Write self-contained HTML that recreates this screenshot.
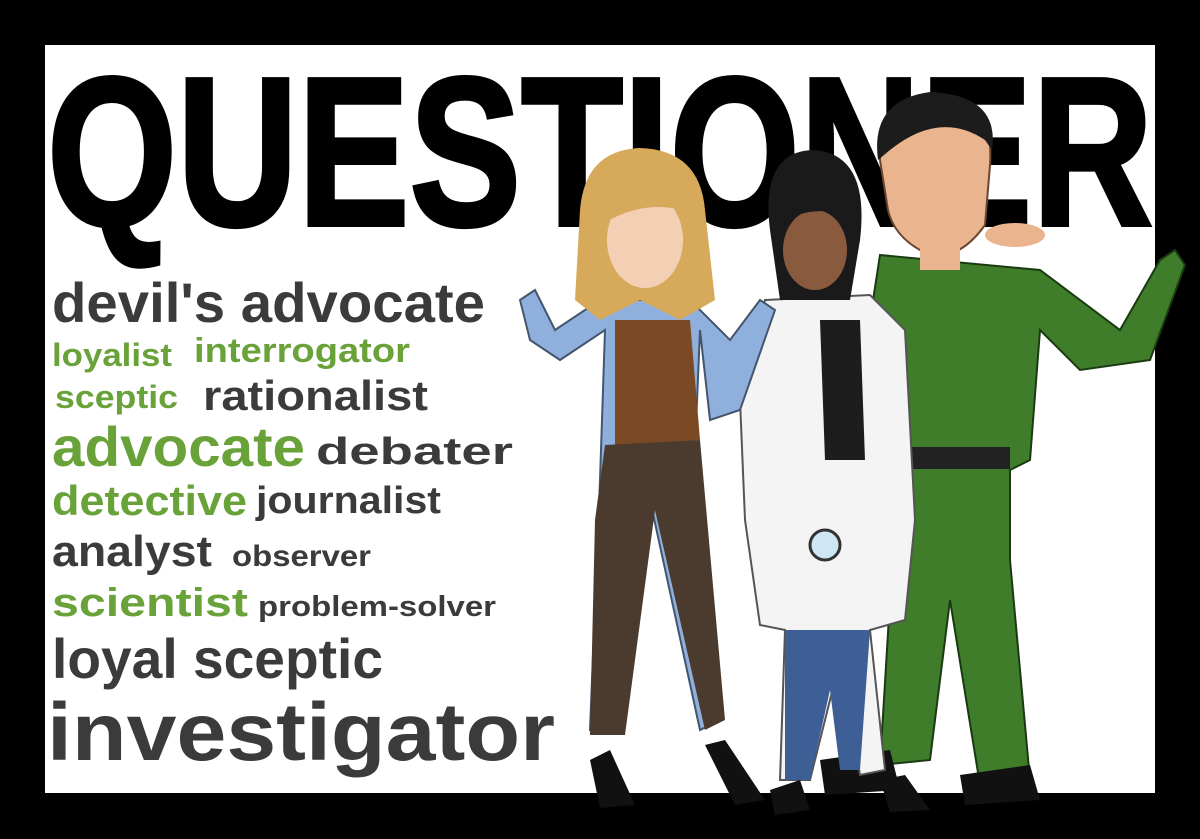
<!DOCTYPE html>
<html><head><meta charset="utf-8"><style>
html,body{margin:0;padding:0;background:#000;width:1200px;height:839px;overflow:hidden}
svg{display:block}
.g{fill:#3b3b3b;font-family:"Liberation Sans",sans-serif;font-weight:bold}
.gr{fill:#6aa23a;font-family:"Liberation Sans",sans-serif;font-weight:bold}
</style></head><body>
<svg width="1200" height="839" viewBox="0 0 1200 839">
<rect x="0" y="0" width="1200" height="839" fill="#000"/>
<rect x="45" y="45" width="1110" height="748" fill="#fff"/>
<text x="47" y="225" font-family="'Liberation Sans Narrow','Liberation Sans',sans-serif" font-weight="bold" font-size="212" textLength="1106" lengthAdjust="spacingAndGlyphs" fill="#000" stroke="#000" stroke-width="4">QUESTIONER</text>

<g>
<text class="g" x="52" y="322" font-size="56" textLength="433" lengthAdjust="spacingAndGlyphs">devil's advocate</text>
<text class="gr" x="52" y="366" font-size="32" textLength="120" lengthAdjust="spacingAndGlyphs">loyalist</text>
<text class="gr" x="194" y="362" font-size="34" textLength="216" lengthAdjust="spacingAndGlyphs">interrogator</text>
<text class="gr" x="55" y="408" font-size="32" textLength="123" lengthAdjust="spacingAndGlyphs">sceptic</text>
<text class="g" x="203" y="410" font-size="42" textLength="225" lengthAdjust="spacingAndGlyphs">rationalist</text>
<text class="gr" x="52" y="466" font-size="56" textLength="253" lengthAdjust="spacingAndGlyphs">advocate</text>
<text class="g" x="316" y="464" font-size="38" textLength="197" lengthAdjust="spacingAndGlyphs">debater</text>
<text class="gr" x="52" y="515" font-size="42" textLength="195" lengthAdjust="spacingAndGlyphs">detective</text>
<text class="g" x="256" y="513" font-size="38" textLength="185" lengthAdjust="spacingAndGlyphs">journalist</text>
<text class="g" x="52" y="566" font-size="44" textLength="160" lengthAdjust="spacingAndGlyphs">analyst</text>
<text class="g" x="232" y="566" font-size="30" textLength="139" lengthAdjust="spacingAndGlyphs">observer</text>
<text class="gr" x="52" y="616" font-size="40" textLength="196" lengthAdjust="spacingAndGlyphs">scientist</text>
<text class="g" x="258" y="616" font-size="29" textLength="238" lengthAdjust="spacingAndGlyphs">problem-solver</text>
<text class="g" x="52" y="678" font-size="56" textLength="331" lengthAdjust="spacingAndGlyphs">loyal sceptic</text>
<text class="g" x="47" y="760" font-size="82" textLength="508" lengthAdjust="spacingAndGlyphs">investigator</text>
</g>

<g>
<path d="M880 255 L1040 270 L1120 330 L1160 260 L1175 250 L1185 265 L1150 360 L1080 370 L1040 330 L1030 460 L1010 470 L1010 560 L1030 780 L980 785 L950 600 L930 760 L880 765 L890 600 L880 470 L860 460 L870 320 Z" fill="#3f7d2a" stroke="#1a3a12" stroke-width="2"/>
<rect x="910" y="447" width="100" height="22" fill="#222"/>
<path d="M880 160 Q880 95 940 95 Q995 100 990 165 L985 225 Q960 260 930 255 Q895 240 888 210 Z" fill="#e9b48e" stroke="#6b4530" stroke-width="2"/>
<path d="M878 160 Q870 100 930 92 Q1000 95 992 150 L985 140 Q940 110 890 150 Z" fill="#1c1c1c"/>
<rect x="920" y="245" width="40" height="25" fill="#e9b48e"/>
<ellipse cx="1015" cy="235" rx="30" ry="12" fill="#e9b48e"/>
<path d="M820 760 L890 750 L900 790 L825 795 Z M960 775 L1030 765 L1040 800 L965 805 Z" fill="#111"/>
</g>
<g>
<path d="M765 300 L870 295 L905 330 L915 520 L905 620 L870 630 L885 770 L860 775 L840 660 L810 780 L780 780 L785 630 L760 625 L745 520 L740 400 Z" fill="#f4f4f4" stroke="#555" stroke-width="2"/>
<path d="M820 320 L860 320 L865 460 L825 460 Z" fill="#1d1d1d"/>
<path d="M785 630 L870 630 L860 770 L840 770 L830 690 L810 780 L785 780 Z" fill="#3e5f96"/>
<path d="M770 230 Q760 150 815 150 Q870 155 860 240 L850 300 L780 300 Z" fill="#1a1a1a"/>
<ellipse cx="815" cy="250" rx="32" ry="40" fill="#8a5a3f"/>
<path d="M778 220 Q790 160 850 180 L855 220 Q815 200 778 225 Z" fill="#1a1a1a"/>
<circle cx="825" cy="545" r="15" fill="#cfe6f5" stroke="#333" stroke-width="3"/>
<path d="M770 790 L800 780 L810 810 L775 815 Z M880 780 L905 775 L930 810 L890 812 Z" fill="#111"/>
</g>
<g>
<path d="M600 300 L690 300 L730 340 L760 300 L775 310 L740 410 L710 420 L700 330 L695 450 L720 720 L700 730 L650 500 L620 730 L590 730 L600 480 L605 330 L560 360 L530 340 L520 300 L535 290 L555 330 Z" fill="#8fb0dc" stroke="#44556e" stroke-width="2"/>
<path d="M615 320 L690 320 L700 440 L615 445 Z" fill="#7b4a25"/>
<path d="M605 445 L700 440 L725 720 L705 730 L655 510 L625 735 L590 735 L595 520 Z" fill="#4b3a2e"/>
<path d="M580 210 Q585 150 640 148 Q700 150 705 210 L715 300 L680 320 L640 300 L600 320 L575 300 Z" fill="#d7a95a"/>
<ellipse cx="645" cy="240" rx="38" ry="48" fill="#f3d0b3"/>
<path d="M600 215 Q620 165 690 190 L695 215 Q650 195 600 225 Z" fill="#d7a95a"/>
<path d="M590 760 L610 750 L635 805 L600 808 Z M705 745 L725 740 L765 800 L735 805 Z" fill="#111"/>
</g>
</svg>
</body></html>
